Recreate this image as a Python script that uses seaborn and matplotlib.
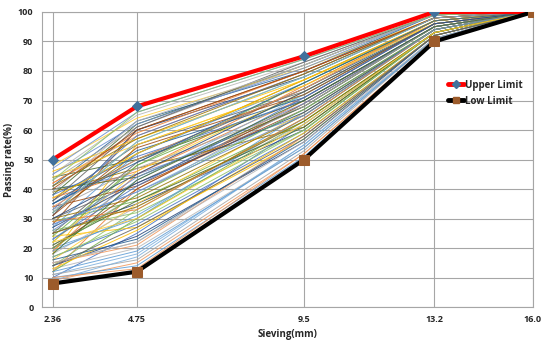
import pandas as pd
import numpy as np
import matplotlib
matplotlib.use("Agg")
import matplotlib.pyplot as plt
import seaborn as sns
from matplotlib.lines import Line2D

# Sieve sizes (mm)
sieves = [2.36, 4.75, 9.5, 13.2, 16.0]

# Gradation limits
upper_limit = [50, 68, 85, 100, 100]
low_limit = [8, 12, 50, 90, 100]

# Passing rate (%) of each mix at every sieve (16.0 mm is always 100)
p236 = [10, 12, 15, 18, 20, 22, 25, 28, 30, 32,
        35, 38, 40, 42, 45, 48, 11, 14, 17, 19,
        21, 24, 27, 29, 31, 34, 36, 39, 41, 44,
        47, 9, 13, 16, 23, 26, 33, 37, 43, 46,
        10, 12, 14, 20, 25, 30, 35, 40, 45, 15,
        18, 22, 28, 32, 38, 42, 11, 13, 19, 24,
        27, 31, 36, 41, 16, 21, 26, 34, 39, 44,
        9, 17, 23, 29, 33, 37, 12, 20, 30, 40,
        14, 25, 35, 18, 28, 10, 15, 22, 32, 43]
p475 = [25, 40, 22, 55, 30, 48, 35, 60, 42, 52,
        50, 62, 45, 58, 65, 64, 18, 33, 28, 45,
        38, 27, 52, 36, 60, 41, 55, 47, 63, 50,
        66, 15, 20, 35, 43, 32, 58, 46, 61, 57,
        14, 30, 24, 40, 49, 37, 53, 44, 62, 21,
        34, 46, 39, 56, 51, 59, 16, 26, 31, 48,
        42, 54, 61, 57, 23, 36, 44, 50, 63, 55,
        17, 29, 41, 33, 47, 52, 19, 38, 45, 60,
        27, 34, 49, 43, 39, 13, 22, 30, 56, 66]
p95 = [62, 70, 58, 75, 66, 72, 60, 80, 68, 77,
       74, 82, 65, 79, 83, 81, 55, 64, 59, 71,
       69, 57, 76, 63, 78, 67, 73, 61, 80, 70,
       84, 52, 54, 66, 72, 60, 79, 75, 82, 77,
       51, 63, 56, 69, 74, 65, 71, 68, 81, 58,
       62, 73, 67, 78, 70, 80, 53, 59, 64, 76,
       66, 72, 83, 79, 57, 61, 69, 74, 82, 75,
       55, 60, 71, 64, 68, 77, 54, 67, 73, 80,
       58, 63, 76, 70, 65, 52, 56, 62, 78, 84]
p132 = [93, 95, 92, 97, 94, 96, 93, 98, 95, 97,
        96, 99, 94, 98, 99, 98, 91, 94, 92, 96,
        95, 92, 97, 93, 98, 94, 96, 93, 99, 95,
        99, 90, 91, 94, 96, 93, 98, 97, 99, 96,
        90, 93, 92, 95, 97, 94, 96, 95, 99, 92,
        93, 96, 94, 98, 95, 98, 91, 92, 94, 97,
        94, 96, 99, 98, 92, 93, 95, 97, 99, 96,
        91, 93, 96, 94, 95, 97, 91, 94, 96, 98,
        92, 93, 97, 95, 94, 90, 91, 93, 98, 99]
p160 = [100] * len(p236)

# Long format table for seaborn
rows = []
for i in range(len(p236)):
    vals = [p236[i], p475[i], p95[i], p132[i], p160[i]]
    for s, v in zip(sieves, vals):
        rows.append({"mix": i, "sieve": s, "passing": v})
df = pd.DataFrame(rows)

# Excel-like color cycle
excel_colors = ['#4472C4', '#ED7D31', '#A5A5A5', '#FFC000', '#5B9BD5', '#70AD47',
                '#264478', '#9E480E', '#636363', '#997300', '#255E91', '#43682B',
                '#698ED0', '#F1975A', '#B7B7B7', '#FFCD33', '#7CAFDD', '#8CC168']
palette = [excel_colors[i % len(excel_colors)] for i in range(len(p236))]

sns.set_style("white")
plt.rcParams['font.family'] = ['Open Sans', 'DejaVu Sans']

fig = plt.figure(figsize=(5.5, 3.42), dpi=100)
ax = fig.add_axes([0.076, 0.102, 0.893, 0.863])

sns.lineplot(data=df, x="sieve", y="passing", hue="mix", palette=palette,
             estimator=None, sort=False, linewidth=0.7, alpha=0.85,
             legend=False, ax=ax)

# Limits
sns.lineplot(x=sieves, y=upper_limit, color='#FF0000', linewidth=3,
             marker='D', markersize=5, markerfacecolor='#41719C',
             markeredgecolor='#41719C', ax=ax, zorder=5)
sns.lineplot(x=sieves, y=low_limit, color='#000000', linewidth=3,
             marker='s', markersize=6.5, markerfacecolor='#9C5B2B',
             markeredgecolor='#9C5B2B', ax=ax, zorder=5)

ax.set_xlim(2.05, 16.0)
ax.set_ylim(0, 100)
ax.set_xticks(sieves)
ax.set_xticklabels(['2.36', '4.75', '9.5', '13.2', '16.0'])
ax.set_yticks(range(0, 101, 10))
ax.tick_params(axis='both', labelsize=6.5, length=0, pad=6)
plt.setp(ax.get_xticklabels() + ax.get_yticklabels(), fontweight='bold')

ax.grid(True, color='#A6A6A6', linewidth=0.8)
for sp in ax.spines.values():
    sp.set_color('#A6A6A6')
    sp.set_linewidth(0.8)

ax.set_xlabel("Sieving(mm)", fontsize=7, fontweight='bold', labelpad=3)
ax.set_ylabel("Passing rate(%)", fontsize=7, fontweight='bold', labelpad=2)

handles = [
    Line2D([0], [0], color='#FF0000', linewidth=3.5, marker='D', markersize=4,
           markerfacecolor='#41719C', markeredgecolor='#41719C'),
    Line2D([0], [0], color='#000000', linewidth=3.5, marker='s', markersize=5,
           markerfacecolor='#9C5B2B', markeredgecolor='#9C5B2B'),
]
leg = ax.legend(handles, ['Upper Limit', 'Low Limit'], loc='upper left',
                bbox_to_anchor=(0.81, 0.80), frameon=False, fontsize=7,
                handlelength=1.6, handletextpad=0.1, labelspacing=0.5)
for t in leg.get_texts():
    t.set_fontweight('bold')

plt.savefig("out.png", dpi=100)
